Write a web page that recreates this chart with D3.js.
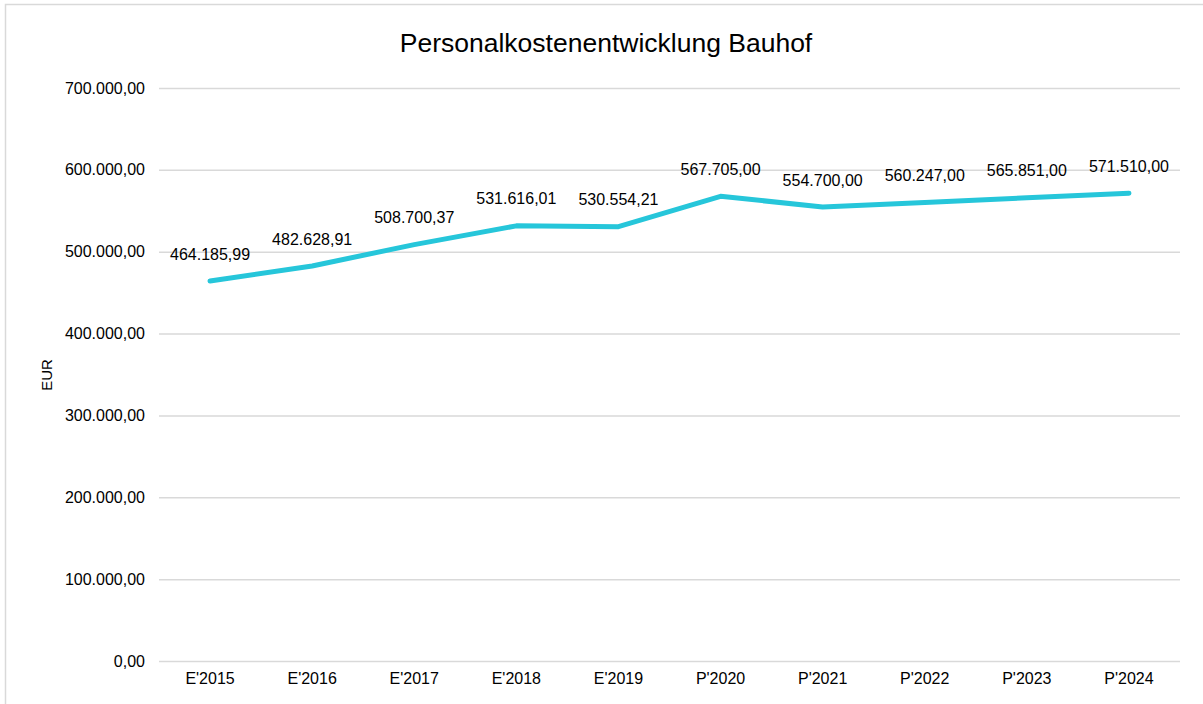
<!DOCTYPE html>
<html>
<head>
<meta charset="utf-8">
<script src="https://cdn.jsdelivr.net/npm/d3@7"></script>
<style>
  html, body { margin: 0; padding: 0; background: #fff; }
  svg { display: block; font-family: "Liberation Sans", Arial, sans-serif; }
</style>
</head>
<body>
<svg id="chart" width="1203" height="704"></svg>
<script>
const categories = ["E'2015", "E'2016", "E'2017", "E'2018", "E'2019", "P'2020", "P'2021", "P'2022", "P'2023", "P'2024"];
const values = [464185.99, 482628.91, 508700.37, 531616.01, 530554.21, 567705.00, 554700.00, 560247.00, 565851.00, 571510.00];
const yTicks = [0, 100000, 200000, 300000, 400000, 500000, 600000, 700000];
const title = "Personalkostenentwicklung Bauhof";
const yTitle = "EUR";

const locale = d3.formatLocale({ decimal: ",", thousands: ".", grouping: [3], currency: ["", " €"] });
const fmt = locale.format(",.2f");

const svg = d3.select("#chart");
const W = 1203, H = 704;
const m = { left: 159, right: 23, top: 88, bottom: 43 };

svg.append("rect").attr("x", 5.5).attr("y", 4.5).attr("width", W + 10).attr("height", H + 10)
  .attr("fill", "#fff").attr("stroke", "#d9d9d9").attr("stroke-width", 1.5);

const x = d3.scaleBand().domain(categories).range([m.left, W - m.right]).padding(0);
const y = d3.scaleLinear().domain([0, 700000]).range([H - m.bottom, m.top]);

// gridlines
const yAxis = d3.axisLeft(y).tickValues(yTicks).tickFormat(fmt).tickSize(-(W - m.right - m.left)).tickPadding(14);
const gy = svg.append("g").attr("transform", `translate(${m.left},0)`).call(yAxis);
gy.select(".domain").remove();
gy.selectAll(".tick line").attr("stroke", "#d9d9d9").attr("stroke-width", 1.5);
gy.selectAll(".tick text").attr("font-size", 16).attr("fill", "#000")
  .attr("font-family", "'Liberation Sans', Arial, sans-serif");

// x axis labels
const xAxis = d3.axisBottom(x).tickSize(0).tickPadding(12);
const gx = svg.append("g").attr("transform", `translate(0,${H - m.bottom})`).call(xAxis);
gx.select(".domain").remove();
gx.selectAll(".tick text").attr("font-size", 16).attr("fill", "#000")
  .attr("font-family", "'Liberation Sans', Arial, sans-serif");

// line
const line = d3.line().x((d, i) => x(categories[i]) + x.bandwidth() / 2).y(d => y(d));
svg.append("path").datum(values).attr("d", line).attr("fill", "none")
  .attr("stroke", "#26c6da").attr("stroke-width", 5).attr("stroke-linecap", "round").attr("stroke-linejoin", "round");

// data labels
svg.append("g").selectAll("text").data(values).join("text")
  .attr("x", (d, i) => x(categories[i]) + x.bandwidth() / 2)
  .attr("y", d => y(d) - 27)
  .attr("dy", "0.35em")
  .attr("text-anchor", "middle")
  .attr("font-size", 16).attr("fill", "#000")
  .text(d => fmt(d));

// title
svg.append("text").attr("x", 606).attr("y", 52).attr("text-anchor", "middle")
  .attr("font-size", 26.5).attr("fill", "#000").text(title);

// y title
svg.append("text").attr("transform", `translate(52,375) rotate(-90)`).attr("text-anchor", "middle")
  .attr("font-size", 15).attr("fill", "#000").text(yTitle);
</script>
</body>
</html>
